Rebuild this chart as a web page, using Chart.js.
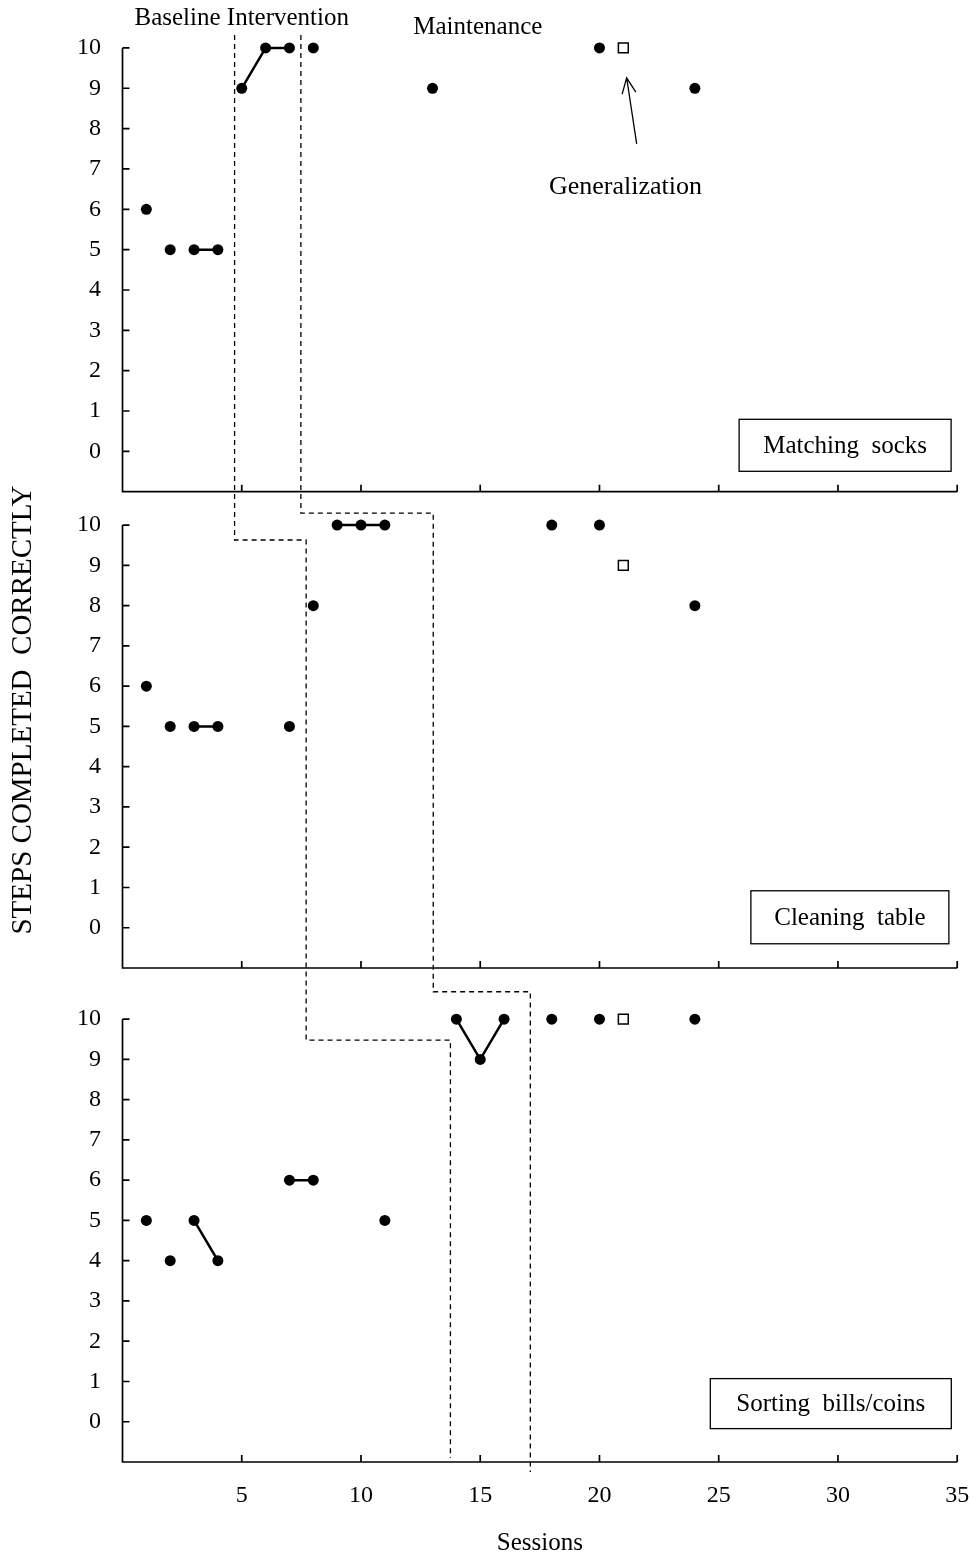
<!DOCTYPE html>
<html>
<head>
<meta charset="utf-8">
<script src="https://cdn.jsdelivr.net/npm/chart.js@4.4.1/dist/chart.umd.min.js"></script>
<style>
  body { margin: 0; background: #fff; }
  canvas { display: block; }
</style>
</head>
<body>
<canvas id="grafico" width="977" height="1560"></canvas>
<script>
// Marcas de los ejes
var marcasY = [0, 1, 2, 3, 4, 5, 6, 7, 8, 9, 10];
var marcasX = [5, 10, 15, 20, 25, 30, 35];

// Matching socks
var sesionesCalcetines = [1, 2, 3, 4, 5, 6, 7, 8, 13, 20, 24];
var pasosCalcetines    = [6, 5, 5, 5, 9, 10, 10, 10, 9, 10, 9];
var tramosCalcetines   = [[3, 4], [5, 7]]; // sesiones unidas con línea

// Cleaning table
var sesionesMesa = [1, 2, 3, 4, 7, 8, 9, 10, 11, 18, 20, 24];
var pasosMesa    = [6, 5, 5, 5, 5, 8, 10, 10, 10, 10, 10, 8];
var tramosMesa   = [[3, 4], [9, 11]];

// Sorting bills/coins
var sesionesBilletes = [1, 2, 3, 4, 7, 8, 11, 14, 15, 16, 18, 20, 24];
var pasosBilletes    = [5, 4, 5, 4, 6, 6, 5, 10, 9, 10, 10, 10, 10];
var tramosBilletes   = [[3, 4], [7, 8], [14, 16]];

// Generalization (cuadro blanco)
var sesionGeneralizacion = [21];
var generalizacionCalcetines = [10];
var generalizacionMesa = [9];
var generalizacionBilletes = [10];

// Líneas de cambio de fase: x en cada panel y alturas de los escalones
var cambio1X = [4.7, 7.7, 13.75];
var cambio1Y = [10.32, 9.63, 9.48, -0.9];
var cambio2X = [7.48, 13.03, 17.1];
var cambio2Y = [10.32, 10.3, 10.68, -1.25];

Chart.defaults.font.family = '"Liberation Serif", "Times New Roman", serif';
Chart.defaults.color = '#000';

function aPuntos(sesiones, pasos) {
    return sesiones.map(function (s, i) { return { x: s, y: pasos[i] }; });
}

function datasetsPanel(eje, sesiones, pasos, tramos, generalizacion) {
    var lista = [{
        data: aPuntos(sesiones, pasos),
        yAxisID: eje,
        showLine: false,
        pointRadius: 5.5,
        pointBackgroundColor: '#000',
        pointBorderWidth: 0
    }, {
        data: aPuntos(sesionGeneralizacion, generalizacion),
        yAxisID: eje,
        showLine: false,
        pointStyle: 'rect',
        pointRadius: 7,
        pointBackgroundColor: '#fff',
        pointBorderColor: '#000',
        pointBorderWidth: 1.5
    }];
    tramos.forEach(function (t) {
        lista.push({
            data: aPuntos(sesiones, pasos).filter(function (p) { return p.x >= t[0] && p.x <= t[1]; }),
            yAxisID: eje,
            showLine: true,
            borderColor: '#000',
            borderWidth: 2.5,
            pointRadius: 0
        });
    });
    return lista;
}

function ejePanel(max, peso) {
    return {
        type: 'linear',
        axis: 'y',
        position: 'left',
        stack: 'paneles',
        stackWeight: peso,
        min: -1,
        max: max,
        afterBuildTicks: function (s) { s.ticks = marcasY.map(function (v) { return { value: v }; }); },
        afterFit: function (s) { s.width = 70; s.paddingTop = 0; s.paddingBottom = 0; },
        ticks: { padding: 21.5, font: { size: 24 }, autoSkip: false },
        grid: { display: false, drawTicks: false },
        border: { display: false }
    };
}

// Ejes, líneas de fase y textos
var dibujoExtra = {
    id: 'dibujoExtra',
    beforeDatasetsDraw: function (chart) {
        var ctx = chart.ctx;
        var x = chart.scales.x;
        var paneles = [chart.scales.y1, chart.scales.y2, chart.scales.y3];
        var x0 = x.getPixelForValue(0);
        var x35 = x.getPixelForValue(35);

        ctx.save();
        ctx.strokeStyle = '#000';
        ctx.lineWidth = 1.7;
        paneles.forEach(function (y) {
            var base = y.getPixelForValue(-1);
            ctx.beginPath();
            ctx.moveTo(x0, y.getPixelForValue(10));
            ctx.lineTo(x0, base);
            ctx.lineTo(x35, base);
            marcasY.forEach(function (v) {
                var py = y.getPixelForValue(v);
                ctx.moveTo(x0, py);
                ctx.lineTo(x0 + 7, py);
            });
            marcasX.forEach(function (v) {
                var px = x.getPixelForValue(v);
                ctx.moveTo(px, base);
                ctx.lineTo(px, base - 7);
            });
            ctx.stroke();
        });

        // líneas discontinuas de cambio de fase
        ctx.lineWidth = 1.3;
        ctx.setLineDash([5, 4]);
        [[cambio1X, cambio1Y], [cambio2X, cambio2Y]].forEach(function (c) {
            var cx = c[0], cy = c[1];
            ctx.beginPath();
            ctx.moveTo(x.getPixelForValue(cx[0]), paneles[0].getPixelForValue(cy[0]));
            ctx.lineTo(x.getPixelForValue(cx[0]), paneles[1].getPixelForValue(cy[1]));
            ctx.lineTo(x.getPixelForValue(cx[1]), paneles[1].getPixelForValue(cy[1]));
            ctx.lineTo(x.getPixelForValue(cx[1]), paneles[2].getPixelForValue(cy[2]));
            ctx.lineTo(x.getPixelForValue(cx[2]), paneles[2].getPixelForValue(cy[2]));
            ctx.lineTo(x.getPixelForValue(cx[2]), paneles[2].getPixelForValue(cy[3]));
            ctx.stroke();
        });
        ctx.setLineDash([]);

        // textos de fase
        ctx.fillStyle = '#000';
        ctx.textAlign = 'center';
        ctx.textBaseline = 'middle';
        ctx.font = '25px "Liberation Serif"';
        ctx.fillText('Baseline Intervention', x.getPixelForValue(5), paneles[0].getPixelForValue(10.74));
        ctx.fillText('Maintenance', x.getPixelForValue(14.9), paneles[0].getPixelForValue(10.52));
        ctx.font = '26px "Liberation Serif"';
        ctx.fillText('Generalization', x.getPixelForValue(21.09), paneles[0].getPixelForValue(6.55));

        // flecha
        var ax = x.getPixelForValue(21.56), ay = paneles[0].getPixelForValue(7.62);
        var bx = x.getPixelForValue(21.14), by = paneles[0].getPixelForValue(9.26);
        var ang = Math.atan2(by - ay, bx - ax);
        ctx.lineWidth = 1.3;
        ctx.beginPath();
        ctx.moveTo(ax, ay);
        ctx.lineTo(bx, by);
        ctx.moveTo(bx - 17 * Math.cos(ang - 0.42), by - 17 * Math.sin(ang - 0.42));
        ctx.lineTo(bx, by);
        ctx.lineTo(bx - 17 * Math.cos(ang + 0.42), by - 17 * Math.sin(ang + 0.42));
        ctx.stroke();

        // cajas con el nombre de cada tarea
        ctx.font = '25px "Liberation Serif"';
        [['Matching  socks', 0, 30.3, 0.15, 212, 52],
         ['Cleaning  table', 1, 30.5, 0.26, 198, 53],
         ['Sorting  bills/coins', 2, 29.7, 0.45, 241, 50]].forEach(function (b) {
            var px = x.getPixelForValue(b[2]);
            var py = paneles[b[1]].getPixelForValue(b[3]);
            ctx.strokeRect(px - b[4] / 2, py - b[5] / 2, b[4], b[5]);
            ctx.fillText(b[0], px, py + 1);
        });

        // título del eje Y
        ctx.translate(23, 710);
        ctx.rotate(-Math.PI / 2);
        ctx.font = '29px "Liberation Serif"';
        ctx.fillText('STEPS COMPLETED  CORRECTLY', 0, 0);
        ctx.restore();
    }
};

var ctx = document.getElementById('grafico').getContext('2d');

var miGrafico = new Chart(ctx, {
    type: 'scatter',
    data: {
        datasets: [].concat(
            datasetsPanel('y1', sesionesCalcetines, pasosCalcetines, tramosCalcetines, generalizacionCalcetines),
            datasetsPanel('y2', sesionesMesa, pasosMesa, tramosMesa, generalizacionMesa),
            datasetsPanel('y3', sesionesBilletes, pasosBilletes, tramosBilletes, generalizacionBilletes)
        )
    },
    options: {
        responsive: false,
        animation: false,
        devicePixelRatio: 1,
        events: [],
        layout: { padding: { left: 52.5, top: 10, right: 19.8, bottom: 0 } },
        plugins: { legend: { display: false }, tooltip: { enabled: false } },
        scales: {
            // el apilado coloca el primero abajo
            y3: ejePanel(11.27, 494),
            y2: ejePanel(10.83, 476.3),
            y1: ejePanel(10.94, 481.7),
            x: {
                type: 'linear',
                position: 'bottom',
                min: 0,
                max: 35,
                afterBuildTicks: function (s) { s.ticks = marcasX.map(function (v) { return { value: v }; }); },
                afterFit: function (s) { s.height = 98; s.paddingLeft = 0; s.paddingRight = 0; },
                ticks: { padding: 19, font: { size: 24 }, maxRotation: 0, autoSkip: false },
                grid: { display: false, drawTicks: false },
                border: { display: false },
                title: { display: true, text: 'Sessions', font: { size: 25 }, padding: { top: 0, bottom: 2 } }
            }
        }
    },
    plugins: [dibujoExtra]
});
</script>
</body>
</html>
